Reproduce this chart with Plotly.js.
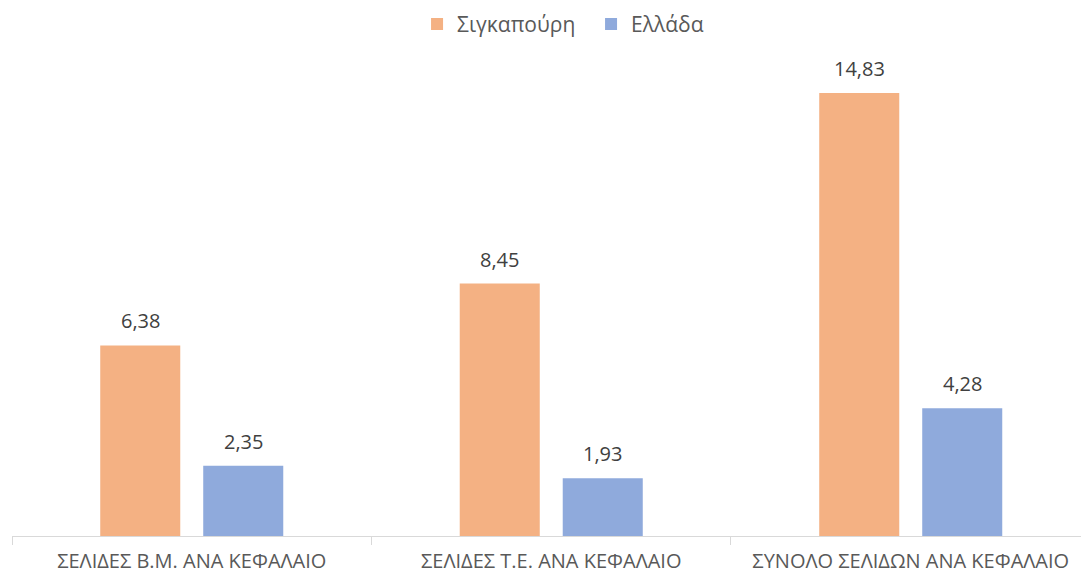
<!DOCTYPE html>
<html>
<head>
<meta charset="utf-8">
<script src="https://cdn.plot.ly/plotly-3.0.1.min.js"></script>
<style>
  html, body { margin: 0; padding: 0; background: #fff; }
  #chart { width: 1081px; height: 577px; }
</style>
</head>
<body>
<div id="chart"></div>
<script>
// Pages per chapter: Singapore vs Greece
const categories = ["ΣΕΛΙΔΕΣ Β.Μ. ΑΝΑ ΚΕΦΑΛΑΙΟ", "ΣΕΛΙΔΕΣ Τ.Ε. ΑΝΑ ΚΕΦΑΛΑΙΟ", "ΣΥΝΟΛΟ ΣΕΛΙΔΩΝ ΑΝΑ ΚΕΦΑΛΑΙΟ"];
const singapore = [6.38, 8.45, 14.83];
const greece = [2.35, 1.93, 4.28];
const seriesNames = ["Σιγκαπούρη", "Ελλάδα"];

const fontFamily = "'Open Sans', 'DejaVu Sans', sans-serif";
const colors = ["#F4B183", "#8FAADC"];
const seriesValues = [singapore, greece];

const traces = seriesValues.map((vals, i) => ({
  type: "bar",
  name: seriesNames[i],
  x: categories,
  y: vals,
  marker: { color: colors[i] },
  hoverinfo: "skip"
}));

// Value labels placed above each bar (offset to the bar's slot in the group)
const slotShift = 51.5;
const annotations = [];
seriesValues.forEach((vals, i) => {
  vals.forEach((v, j) => {
    annotations.push({
      x: categories[j],
      y: v,
      xref: "x",
      yref: "y",
      text: v.toFixed(2).replace(".", ","),
      showarrow: false,
      xshift: i === 0 ? -slotShift : slotShift,
      yanchor: "bottom",
      yshift: 9,
      font: { family: fontFamily, size: 20, color: "#404040" }
    });
  });
});

const layout = {
  width: 1081,
  height: 577,
  margin: { l: 12, r: 0, t: 50, b: 41 },
  paper_bgcolor: "#ffffff",
  plot_bgcolor: "#ffffff",
  barmode: "group",
  bargap: 0.427,
  bargroupgap: 0.223,
  font: { family: fontFamily, size: 16, color: "#595959" },
  showlegend: true,
  legend: {
    orientation: "h",
    xref: "container",
    x: 0.3858,
    xanchor: "left",
    y: 0.958,
    yanchor: "middle",
    yref: "container",
    entrywidth: 129,
    entrywidthmode: "pixels",
    font: { family: fontFamily, size: 21, color: "#595959" }
  },
  annotations: annotations,
  xaxis: {
    type: "category",
    range: [-0.5, 2.4736],
    showline: true,
    linecolor: "#D9D9D9",
    linewidth: 1,
    ticks: "outside",
    tickson: "boundaries",
    ticklen: 8,
    tickcolor: "#D9D9D9",
    ticklabelstandoff: 7,
    showgrid: false,
    tickfont: { family: fontFamily, size: 20, color: "#595959" }
  },
  yaxis: {
    range: [0, 16.27],
    visible: false,
    showgrid: false,
    zeroline: false
  }
};

Plotly.newPlot("chart", traces, layout, { staticPlot: true, displayModeBar: false });
</script>
</body>
</html>
